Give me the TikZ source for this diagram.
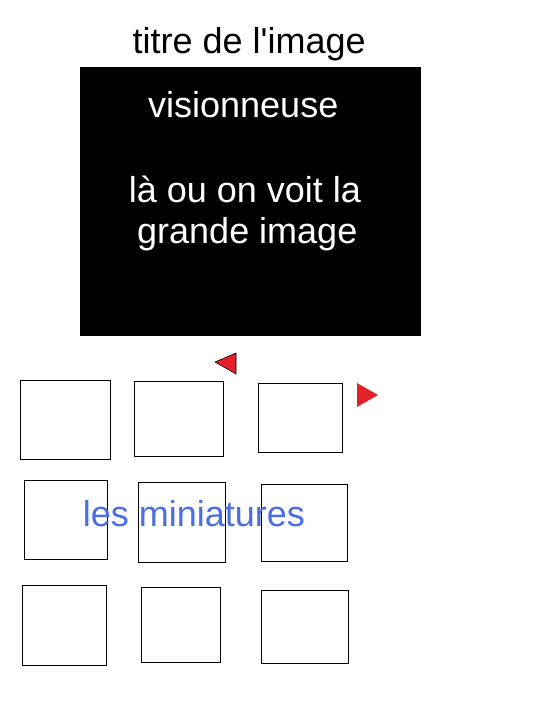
\documentclass[tikz,border=0pt]{standalone}
\usepackage{fontspec}
\setmainfont{Liberation Sans}
\newfontfamily\plainsans{Liberation Sans}
\definecolor{arrowred}{RGB}{229,33,40}
\definecolor{miniblue}{RGB}{75,110,225}
\tikzset{
  lbl/.style={anchor=base west, inner sep=0pt, font=\plainsans\fontsize{36}{42}\selectfont},
  thumb/.style={draw=black, line width=1pt},
}
\begin{document}
\begin{tikzpicture}[x=1pt,y=-1pt]
\useasboundingbox[fill=white] (0,0) rectangle (535,723);
% viewer
\fill[black] (80,67) rectangle (421,336);
\node[lbl, text=black] (title) at (132.5,53.5) {titre de l'image};
\node[lbl, text=white] (vis) at (148,117.5) {visionneuse};
\node[lbl, text=white] (l1) at (128.6,202.5) {là ou on voit la};
\node[lbl, text=white] (l2) at (137,243.5) {grande image};
% arrows
\filldraw[fill=arrowred, draw=black, line width=0.6pt] (215,362) -- (236,353) -- (236,374) -- cycle;
\fill[arrowred] (357,383) -- (378,395) -- (357,407) -- cycle;
% thumbnails
\draw[thumb] (20,380) rectangle (110,459);
\draw[thumb] (134,381) rectangle (223,456);
\draw[thumb] (258,383) rectangle (342,452);
\draw[thumb] (24,480) rectangle (107,559);
\draw[thumb] (138,482) rectangle (225,562);
\draw[thumb] (261,484) rectangle (347,561);
\draw[thumb] (22,585) rectangle (106,665);
\draw[thumb] (141,587) rectangle (220,662);
\draw[thumb] (261,590) rectangle (348,663);
\node[lbl, text=miniblue] (mini) at (82.6,526) {les miniatures};
\end{tikzpicture}
\end{document}
